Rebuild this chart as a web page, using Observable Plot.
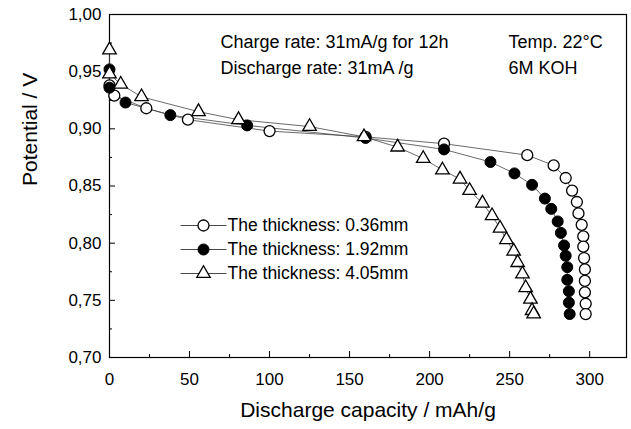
<!DOCTYPE html>
<html><head><meta charset="utf-8">
<script src="https://cdn.jsdelivr.net/npm/d3@7"></script>
<script src="https://cdn.jsdelivr.net/npm/@observablehq/plot@0.6"></script>
<style>body{margin:0;background:#fff}</style>
</head><body><div id="chart"></div>
<script>
const seriesNames = ["The thickness: 0.36mm", "The thickness: 1.92mm", "The thickness: 4.05mm"];
const cap036 = [0, 3, 23, 49, 100, 160, 209, 261, 277.5, 285, 289, 292, 293, 295, 296, 296, 296.5, 297, 297, 297, 297.5, 297.5];
const pot036 = [0.938, 0.929, 0.918, 0.908, 0.898, 0.893, 0.887, 0.877, 0.868, 0.857, 0.846, 0.836, 0.826, 0.816, 0.806, 0.797, 0.787, 0.777, 0.767, 0.757, 0.747, 0.738];
const cap192 = [0, 0, 10, 38, 86, 160, 209, 238, 253, 264, 272, 276, 280, 282, 284, 285, 286, 286, 287, 287, 287.5];
const pot192 = [0.952, 0.936, 0.923, 0.912, 0.903, 0.892, 0.882, 0.871, 0.861, 0.851, 0.839, 0.830, 0.819, 0.809, 0.798, 0.789, 0.779, 0.768, 0.758, 0.748, 0.738];
const cap405 = [0, 0, 7, 20, 55.6, 80.6, 125, 159, 180, 196, 208, 219, 225, 233, 239, 244, 248, 252.5, 255, 258, 260, 263, 264, 265];
const pot405 = [0.969, 0.948, 0.939, 0.928, 0.915, 0.908, 0.902, 0.893, 0.884, 0.874, 0.864, 0.856, 0.846, 0.835, 0.824, 0.813, 0.803, 0.793, 0.783, 0.773, 0.761, 0.751, 0.741, 0.738];
const xTicks = [0, 50, 100, 150, 200, 250, 300];
const xMinor = [25, 75, 125, 175, 225, 275];
const yTicks = [0.70, 0.75, 0.80, 0.85, 0.90, 0.95, 1.00];
const yMinor = [0.725, 0.775, 0.825, 0.875, 0.925, 0.975];
const notes = ["Charge rate: 31mA/g for 12h", "Discharge rate: 31mA /g", "Temp. 22\u00B0C", "6M KOH"];
const xLabel = "Discharge capacity / mAh/g";
const yLabel = "Potential / V";

const toRows = (name, xs, ys) => xs.map((x, i) => ({series: name, x, y: ys[i]}));
const r036 = toRows(seriesNames[0], cap036, pot036);
const r192 = toRows(seriesNames[1], cap192, pot192);
const r405 = toRows(seriesNames[2], cap405, pot405);
const all = [...r036, ...r192, ...r405];

const fmt = d => d.toFixed(2).replace(".", ",");
const lineSym = {draw(ctx) { ctx.moveTo(-23, 0); ctx.lineTo(23, 0); }};
const markStyles = [
  {symbol: "circle", r: 5.5, fill: "white", stroke: "black", strokeWidth: 1.3},
  {symbol: "circle", r: 5.5, fill: "black", stroke: "black", strokeWidth: 1},
  {symbol: "triangle", r: 5, fill: "white", stroke: "black", strokeWidth: 1.3}
];
const legendRowsDy = [211, 235, 259];

const legendMarks = seriesNames.flatMap((name, i) => [
  Plot.dot([name], {frameAnchor: "top-left", dx: 94, dy: legendRowsDy[i], symbol: lineSym, stroke: "#333", strokeWidth: 0.9, r: 1}),
  Plot.dot([name], {frameAnchor: "top-left", dx: 94, dy: legendRowsDy[i], ...markStyles[i]}),
  Plot.text([name], {frameAnchor: "top-left", dx: 118, dy: legendRowsDy[i], text: d => d, textAnchor: "start", lineAnchor: "middle", fontSize: 17.5})
]);

const chart = Plot.plot({
  width: 631, height: 429,
  marginLeft: 109, marginRight: 5, marginTop: 14, marginBottom: 72,
  style: {fontFamily: "'Liberation Sans', Arial, sans-serif", fontSize: "17px", color: "black", background: "white"},
  x: {domain: [0, 323]},
  y: {domain: [0.70, 1.00]},
  marks: [
    Plot.frame({stroke: "black", strokeWidth: 1.2}),
    Plot.axisX({ticks: xTicks, tickSize: -6, tickPadding: 21, tickFormat: d => d, label: null, fontSize: 17}),
    Plot.axisX({ticks: xMinor, tickSize: -3, tickFormat: () => "", label: null}),
    Plot.axisY({ticks: yTicks, tickSize: -6, tickPadding: 14, tickFormat: fmt, label: null, fontSize: 17}),
    Plot.axisY({ticks: yMinor, tickSize: -3, tickFormat: () => "", label: null}),
    Plot.line(all, {x: "x", y: "y", z: "series", stroke: "#444", strokeWidth: 0.8}),
    Plot.dot(r036, {x: "x", y: "y", ...markStyles[0]}),
    Plot.dot(r192, {x: "x", y: "y", ...markStyles[1]}),
    Plot.dot(r405, {x: "x", y: "y", ...markStyles[2]}),
    Plot.text([notes[0]], {frameAnchor: "top-left", dx: 111, dy: 28, text: d => d, textAnchor: "start", lineAnchor: "middle", fontSize: 18}),
    Plot.text([notes[1]], {frameAnchor: "top-left", dx: 111, dy: 54, text: d => d, textAnchor: "start", lineAnchor: "middle", fontSize: 18}),
    Plot.text([notes[2]], {frameAnchor: "top-left", dx: 399, dy: 28, text: d => d, textAnchor: "start", lineAnchor: "middle", fontSize: 18}),
    Plot.text([notes[3]], {frameAnchor: "top-left", dx: 399, dy: 54, text: d => d, textAnchor: "start", lineAnchor: "middle", fontSize: 18}),
    ...legendMarks,
    Plot.text([xLabel], {frameAnchor: "bottom", dy: 53, text: d => d, lineAnchor: "middle", fontSize: 21}),
    Plot.text([yLabel], {frameAnchor: "left", dx: -79, rotate: -90, text: d => d, lineAnchor: "middle", fontSize: 21})
  ]
});
document.getElementById("chart").appendChild(chart);
</script>
</body></html>
